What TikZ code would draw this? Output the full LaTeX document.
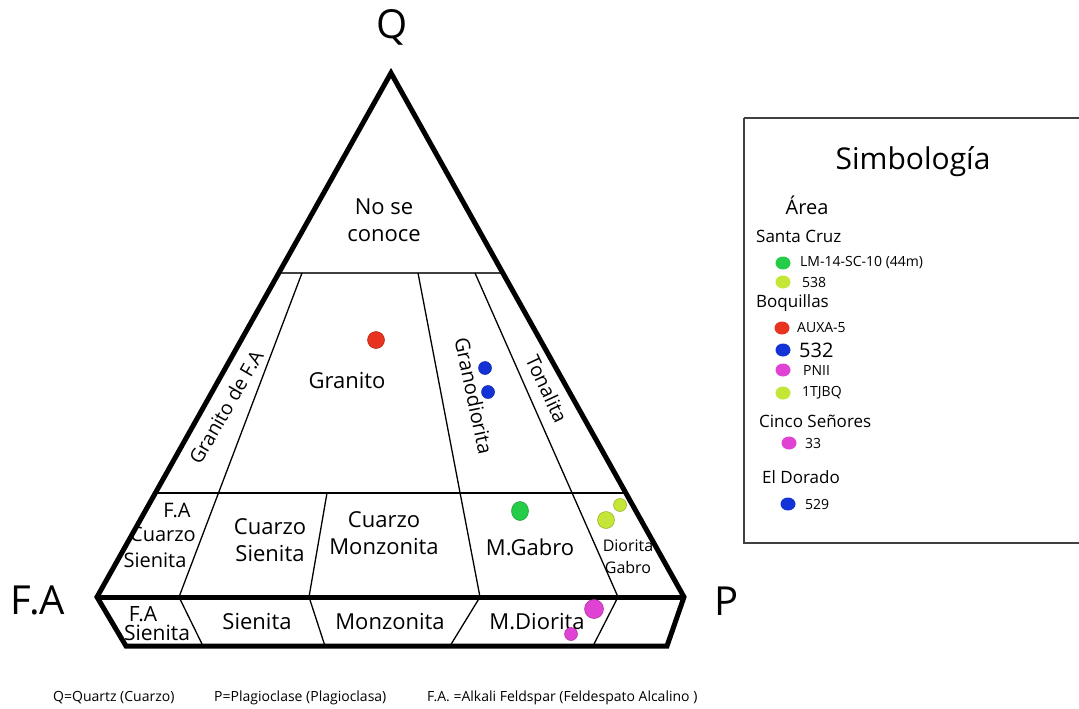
\documentclass[tikz,border=0pt]{standalone}
\usepackage{fontspec}
\setmainfont{Open Sans}
\usetikzlibrary{shapes.geometric}
\definecolor{cred}{HTML}{E8331F}
\definecolor{cblue}{HTML}{1433D6}
\definecolor{cgreen}{HTML}{24CC48}
\definecolor{cyell}{HTML}{C4E636}
\definecolor{cmag}{HTML}{E042D4}
\begin{document}
\begin{tikzpicture}[x=1pt,y=-1pt,
  edge/.style={line width=5pt,line join=miter,miter limit=20},
  divline/.style={line width=1.3pt},
  midline/.style={line width=2pt},
  dot/.style={circle,draw=#1!75!black,fill=#1,line width=0.5pt,inner sep=0pt,minimum size=17pt},
  sdot/.style={circle,draw=#1!75!black,fill=#1,line width=0.5pt,inner sep=0pt,minimum size=13pt},
  ldot/.style={ellipse,fill=#1,inner sep=0pt,minimum width=15pt,minimum height=13pt},
  vlab/.style={font=\fontsize{40}{44}\selectfont,inner sep=0pt},
  rlab/.style={font=\fontsize{22}{27}\selectfont,align=center,inner sep=0pt},
  slab/.style={font=\fontsize{14}{17}\selectfont,anchor=west,inner sep=0pt},
  glab/.style={font=\fontsize{17}{20}\selectfont,anchor=west,inner sep=0pt},
  capt/.style={font=\fontsize{14}{17}\selectfont,inner sep=0pt}]
\useasboundingbox (0,0) rectangle (1079,709);
% vertices
\coordinate (Q) at (391,73);
\coordinate (A) at (97,597);
\coordinate (P) at (684,597);
\coordinate (BL) at (126,646);
\coordinate (BR) at (667,646);
% inner lines
\coordinate (t1) at (279,273); \coordinate (t2) at (503,273);
\coordinate (m1) at (155,493); \coordinate (m2) at (626,493);
\coordinate (a1) at (302,273); \coordinate (a2) at (179,597);
\coordinate (b1) at (418,273); \coordinate (b2) at (480,597);
\coordinate (c1) at (475,273); \coordinate (c2) at (618,597);
\coordinate (d1) at (327,493); \coordinate (d2) at (309,597);
\coordinate (e1) at (203,646); \coordinate (e2) at (325,646);
\coordinate (e3) at (450,646); \coordinate (e4) at (593,646);
\draw[midline,draw=black!75] (t1) -- (t2);
\draw[midline] (m1) -- (m2);
\draw[divline] (a1) -- (a2) -- (e1);
\draw[divline] (b1) -- (b2) -- (e3);
\draw[divline] (c1) -- (c2) -- (e4);
\draw[divline] (d1) -- (d2) -- (e2);
\draw[edge] (A) -- (P);
\draw[edge] (Q) -- (A) -- (BL) -- (BR) -- (P) -- cycle;
% vertex labels
\node[vlab] (lq) at (392,27) {Q};
\node[vlab] (lfa) at (38,600) {F.A};
\node[vlab] (lp) at (727,601) {P};
% region labels
\node[rlab] (nsc) at (384,220) {No se\\conoce};
\node[rlab] (gra) at (347,381) {Granito};
\node[rlab,font=\fontsize{19.5}{23}\selectfont,rotate=60] (gfa) at (226,407) {Granito de F.A};
\node[rlab,font=\fontsize{20}{24}\selectfont,rotate=-78] (gdi) at (474,396) {Granodiorita};
\node[rlab,font=\fontsize{19.5}{23}\selectfont,rotate=-65] (ton) at (547,389) {Tonalita};
\node[rlab,font=\fontsize{20}{25}\selectfont] (facs1) at (177,510) {F.A};
\node[rlab,font=\fontsize{20}{25}\selectfont] (facs2) at (163,534) {Cuarzo};
\node[rlab,font=\fontsize{20}{25}\selectfont] (facs3) at (155,560) {Sienita};
\node[rlab] (cs) at (270,540) {Cuarzo\\Sienita};
\node[rlab] (cm) at (384,533) {Cuarzo\\Monzonita};
\node[rlab] (mg) at (530,547) {M.Gabro};
\node[rlab,font=\fontsize{16}{22}\selectfont] (dg) at (628,557) {Diorita\\Gabro};
\node[rlab,font=\fontsize{21}{26}\selectfont] (fas1) at (143,614) {F.A};
\node[rlab,font=\fontsize{21}{26}\selectfont] (fas2) at (157,633) {Sienita};
\node[rlab] (sie) at (257,622) {Sienita};
\node[rlab] (mon) at (390,622) {Monzonita};
\node[rlab] (mdi) at (537,622) {M.Diorita};
% data points
\node[dot=cred] (p1) at (376,340) {};
\node[sdot=cblue] (p2) at (485,368) {};
\node[sdot=cblue] (p3) at (488,392) {};
\node[dot=cgreen,ellipse,minimum width=17pt,minimum height=19pt] (p4) at (520,511) {};
\node[dot=cyell] (p5) at (606,520) {};
\node[sdot=cyell] (p6) at (620,505) {};
\node[dot=cmag,minimum size=19pt] (p7) at (594,609) {};
\node[sdot=cmag] (p8) at (571,634) {};
% legend
\draw[line width=2pt,draw=black!75] (744,118) -- (1085,118) (744,118) -- (744,543) -- (1085,543);
\node[font=\fontsize{30}{34}\selectfont,inner sep=0pt] (sim) at (913,162) {Simbología};
\node[font=\fontsize{20}{24}\selectfont,inner sep=0pt] (are) at (807,205) {Área};
\node[glab] (sc) at (756,236) {Santa Cruz};
\node[ldot=cgreen] (l1) at (783,263) {}; \node[slab] (l1t) at (800,263) {LM-14-SC-10 (44m)};
\node[ldot=cyell] (l2) at (783,282) {}; \node[slab] (l2t) at (802,282) {538};
\node[glab] (bq) at (756,303) {Boquillas};
\node[ldot=cred] (l3) at (782,328) {}; \node[slab] (l3t) at (797,328) {AUXA-5};
\node[ldot=cblue] (l4) at (783,350) {}; \node[slab,font=\fontsize{20}{24}\selectfont] (l4t) at (799,350) {532};
\node[ldot=cmag] (l5) at (783,370) {}; \node[slab] (l5t) at (803,370) {PNII};
\node[ldot=cyell] (l6) at (783,393) {}; \node[slab] (l6t) at (802,393) {1TJBQ};
\node[glab] (cse) at (759,421) {Cinco Señores};
\node[ldot=cmag] (l7) at (789,443) {}; \node[slab] (l7t) at (805,443) {33};
\node[glab] (eld) at (762,477) {El Dorado};
\node[ldot=cblue] (l8) at (788,504) {}; \node[slab] (l8t) at (805,504) {529};
% captions
\node[capt,anchor=west] (cp1) at (53,698) {Q=Quartz (Cuarzo)};
\node[capt,anchor=west] (cp2) at (214,698) {P=Plagioclase (Plagioclasa)};
\node[capt,anchor=west] (cp3) at (427,698) {F.A. =Alkali Feldspar (Feldespato Alcalino )};
\end{tikzpicture}
\end{document}
